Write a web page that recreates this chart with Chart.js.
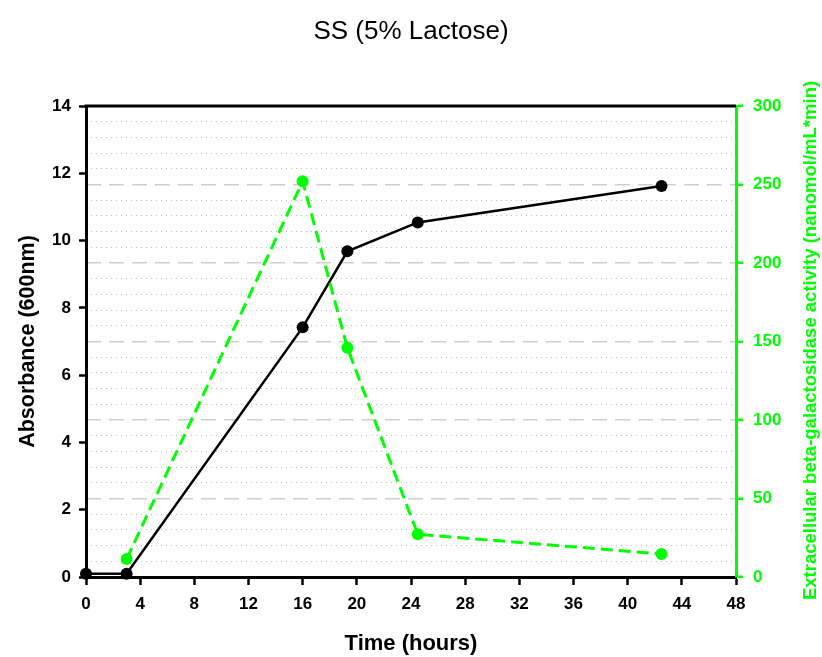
<!DOCTYPE html>
<html>
<head>
<meta charset="utf-8">
<script src="https://cdn.jsdelivr.net/npm/chart.js@4"></script>
<style>
  html, body { margin: 0; padding: 0; background: #fff; }
  #wrap { width: 822px; height: 657px; }
</style>
</head>
<body>
<div id="wrap"><canvas id="ssChart" width="822" height="657"></canvas></div>
<script>
// values
const timeHours = [0, 3, 16, 19.3, 24.5, 42.5];
const absorbance = [0.1, 0.1, 7.42, 9.68, 10.54, 11.62];
const enzymeTime = [3, 16, 19.3, 24.5, 42.5];
const enzymeActivity = [11.4, 252, 146, 27.2, 14.7];

const xTicks = [0, 4, 8, 12, 16, 20, 24, 28, 32, 36, 40, 44, 48];

const GREEN = "#00ff00";
const FONT = "'Liberation Sans', Arial, sans-serif";

function toPoints(xs, ys){
    return xs.map((x, i) => ({ x: x, y: ys[i] }));
}

// frame line on top + right axis title (reads bottom to top)
const framePlugin = {
    id: "frame",
    afterDatasetsDraw(chart){
        let a = chart.chartArea;
        let ctx = chart.ctx;
        ctx.save();
        ctx.strokeStyle = "#000";
        ctx.lineWidth = 3;
        ctx.beginPath();
        ctx.moveTo(a.left - 1.5, a.top);
        ctx.lineTo(a.right, a.top);
        ctx.stroke();

        ctx.fillStyle = GREEN;
        ctx.font = "bold 18.5px " + FONT;
        ctx.textAlign = "center";
        ctx.textBaseline = "middle";
        ctx.translate(811, (a.top + a.bottom) / 2 - 1);
        ctx.rotate(-Math.PI / 2);
        ctx.fillText("Extracellular beta-galactosidase activity (nanomol/mL*min)", 0, 0);
        ctx.restore();
    }
};

new Chart(document.getElementById("ssChart"), {
    type: "line",
    data: {
        datasets: [
            {
                label: "Extracellular beta-galactosidase",
                data: toPoints(enzymeTime, enzymeActivity),
                yAxisID: "y2",
                borderColor: GREEN,
                backgroundColor: GREEN,
                borderWidth: 3,
                borderDash: [12, 6],
                pointRadius: 6,
                pointBorderWidth: 0,
                pointBackgroundColor: GREEN,
                tension: 0,
                clip: false,
                order: 0
            },
            {
                label: "Absorbance",
                data: toPoints(timeHours, absorbance),
                yAxisID: "y",
                borderColor: "#000",
                backgroundColor: "#000",
                borderWidth: 2.5,
                pointRadius: 6,
                pointBorderWidth: 0,
                pointBackgroundColor: "#000",
                tension: 0,
                clip: false,
                order: 1
            }
        ]
    },
    options: {
        responsive: false,
        animation: false,
        layout: { padding: 0 },
        plugins: {
            legend: { display: false },
            tooltip: { enabled: false },
            title: {
                display: true,
                text: "SS (5% Lactose)",
                color: "#000",
                font: { family: FONT, size: 26, weight: "normal" },
                padding: { top: 16, bottom: 58.8 }
            }
        },
        scales: {
            x: {
                type: "linear",
                min: 0,
                max: 48,
                afterBuildTicks: s => { s.ticks = xTicks.map(v => ({ value: v })); },
                afterFit: s => { s.height = 80; },
                grid: { drawOnChartArea: false, tickLength: 8, tickWidth: 2.5, tickColor: "#000" },
                border: { color: "#000", width: 3 },
                ticks: { color: "#000", padding: 9, maxRotation: 0, font: { family: FONT, size: 17, weight: "bold" } },
                title: {
                    display: true,
                    text: "Time (hours)",
                    color: "#000",
                    font: { family: FONT, size: 22, weight: "bold" },
                    padding: { top: 0, bottom: 0 }
                }
            },
            y: {
                position: "left",
                min: 0,
                max: 14,
                ticks: { stepSize: 2, color: "#000", padding: 8, font: { family: FONT, size: 17, weight: "bold" } },
                afterFit: s => { s.width = 86; },
                grid: { drawOnChartArea: false, tickLength: 7, tickWidth: 2.5, tickColor: "#000" },
                border: { color: "#000", width: 3 },
                title: {
                    display: true,
                    text: "Absorbance (600nm)",
                    color: "#000",
                    font: { family: FONT, size: 21.5, weight: "bold" },
                    padding: { top: 15, bottom: 0 }
                }
            },
            y2: {
                position: "right",
                min: 0,
                max: 300,
                afterFit: s => { s.width = 86; },
                ticks: {
                    stepSize: 10,
                    autoSkip: false,
                    color: GREEN,
                    padding: 10,
                    font: { family: FONT, size: 17, weight: "bold" },
                    callback: v => (v % 50 === 0 ? v : "")
                },
                grid: {
                    drawOnChartArea: true,
                    tickLength: 7,
                    tickWidth: 2.5,
                    color: c => {
                        if (!c.tick || c.tick.value === 0 || c.tick.value === 300) return "rgba(0,0,0,0)";
                        return c.tick.value % 50 === 0 ? "#cfcfcf" : "#bdbdbd";
                    },
                    lineWidth: c => (c.tick && c.tick.value % 50 === 0 ? 1.5 : 1),
                    tickColor: c => (c.tick && c.tick.value % 50 === 0 ? GREEN : "rgba(0,0,0,0)")
                },
                border: {
                    color: GREEN,
                    width: 3,
                    dash: c => {
                        if (!c.tick) return [];
                        return c.tick.value % 50 === 0 ? [15, 8] : [1, 4];
                    }
                }
            }
        }
    },
    plugins: [framePlugin]
});
</script>
</body>
</html>
